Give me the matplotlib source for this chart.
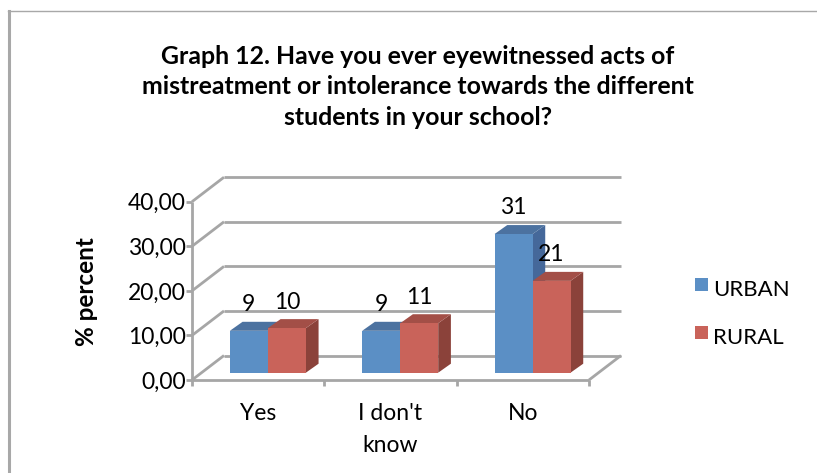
import matplotlib
matplotlib.use("Agg")
import matplotlib.pyplot as plt
from matplotlib.patches import Polygon, Rectangle

plt.rcParams['font.family'] = ['Lato', 'DejaVu Sans']

categories = ["Yes", "I don't\nknow", "No"]
urban = [9.4, 9.4, 31.1]
rural = [10.0, 11.1, 20.6]
urban_labels = ["9", "9", "31"]
rural_labels = ["10", "11", "21"]
yticks = [0, 10, 20, 30, 40]
ytick_labels = ["0,00", "10,00", "20,00", "30,00", "40,00"]
title = ("Graph 12. Have you ever eyewitnessed acts of\n"
         "mistreatment or intolerance towards the different\n"
         "students in your school?")

W, H = 817, 473
x0, y0 = 192, 380      # pixel of the front corner of the floor
ux = 132.33            # pixels per category
uy = 4.4575            # pixels per percent
grid_col = "#a6a6a6"

fig = plt.figure(figsize=(W / 100, H / 100), dpi=100)
ax = fig.add_axes([0, 0, 1, 1])
ax.set_xlim(-x0 / ux, (W - x0) / ux)
ax.set_ylim(-(H - y0) / uy, y0 / uy)
ax.axis("off")

# depth offsets, in data units
dx_wall, dy_wall = 32 / ux, 24.5 / uy
dx_gap, dy_gap = 9.7 / ux, 7.3 / uy
dx_bar, dy_bar = 12.7 / ux, 9 / uy
bar_w = 38 / ux


def line(xs, ys, lw=2.0):
    ax.plot(xs, ys, color=grid_col, lw=lw, solid_capstyle="butt", zorder=1)


# chart frame
ax.plot([(8.5 - x0) / ux] * 2, [-(H - y0) / uy, (y0 - 11) / uy], color="#a8a8a8", lw=2.2, zorder=1)
ax.plot([(8 - x0) / ux, (W - x0) / ux], [(y0 - 11.5) / uy] * 2, color="#a8a8a8", lw=1.0, zorder=1)

# walls and floor
for v, lab in zip(yticks, ytick_labels):
    line([0, dx_wall], [v, v + dy_wall])
    line([dx_wall, 3 + dx_wall], [v + dy_wall, v + dy_wall])
    line([-6 / ux, 0], [v, v])
    ax.text(-6.5 / ux, v - 2 / uy, lab, ha="right", va="center", fontsize=16.5, color="black")
line([0, 0], [0, yticks[-1]])
line([0, 3], [0, 0])
line([3, 3 + dx_wall], [0, dy_wall])
for i in range(4):
    line([i, i], [0, -6 / uy])


def bar3d(x, v, front, top, side):
    # bars stand on the floor, set back from the front edge
    b = dy_gap
    ax.add_patch(Polygon([(x + bar_w, b), (x + bar_w + dx_bar, b + dy_bar),
                          (x + bar_w + dx_bar, b + dy_bar + v), (x + bar_w, b + v)],
                         fc=side, ec="none", zorder=2))
    ax.add_patch(Polygon([(x, b + v), (x + bar_w, b + v),
                          (x + bar_w + dx_bar, b + v + dy_bar), (x + dx_bar, b + v + dy_bar)],
                         fc=top, ec="none", zorder=2))
    ax.add_patch(Rectangle((x, b), bar_w, v, fc=front, ec="none", zorder=3))
    return b + v


for i in range(3):
    mid = i + 0.5 + dx_gap
    t = bar3d(mid - bar_w, urban[i], "#5b8fc5", "#4c72a0", "#45689a")
    ax.annotate(urban_labels[i], (mid - bar_w / 2, t), xytext=(0, 18.8), textcoords="offset points",
                ha="center", va="center", fontsize=16.5, color="black", zorder=5)
    t = bar3d(mid, rural[i], "#c9635a", "#a34f47", "#8b423a")
    ax.annotate(rural_labels[i], (mid + bar_w / 2, t), xytext=(0, 18.8), textcoords="offset points",
                ha="center", va="center", fontsize=16.5, color="black", zorder=5)
    ax.text(i + 0.5, -(413 - y0) / uy, categories[i].split("\n")[0], ha="center", va="center",
            fontsize=16.5, color="black")
    if "\n" in categories[i]:
        ax.text(i + 0.5, -(445 - y0) / uy, categories[i].split("\n")[1], ha="center", va="center",
                fontsize=16.5, color="black")

# axis title
ax.text((87 - x0) / ux, (y0 - 292) / uy, "% percent", rotation=90, ha="center", va="center",
        fontsize=17.5, fontweight="bold", color="black")

# title
ax.text((418 - x0) / ux, (y0 - 87) / uy, title, ha="center", va="center", fontsize=17.9,
        fontweight="bold", color="black", linespacing=1.42)

# legend
for name, col, top_px in zip(["URBAN", "RURAL"], ["#5b8fc5", "#c9635a"], [278, 326]):
    ax.add_patch(Rectangle(((695 - x0) / ux, (y0 - top_px - 13) / uy), 13 / ux, 13 / uy, fc=col, ec="none"))
    ax.text((713 - x0) / ux, (y0 - top_px - 12) / uy, name, ha="left", va="center",
            fontsize=16, color="black")

fig.savefig("out.png", dpi=100)
